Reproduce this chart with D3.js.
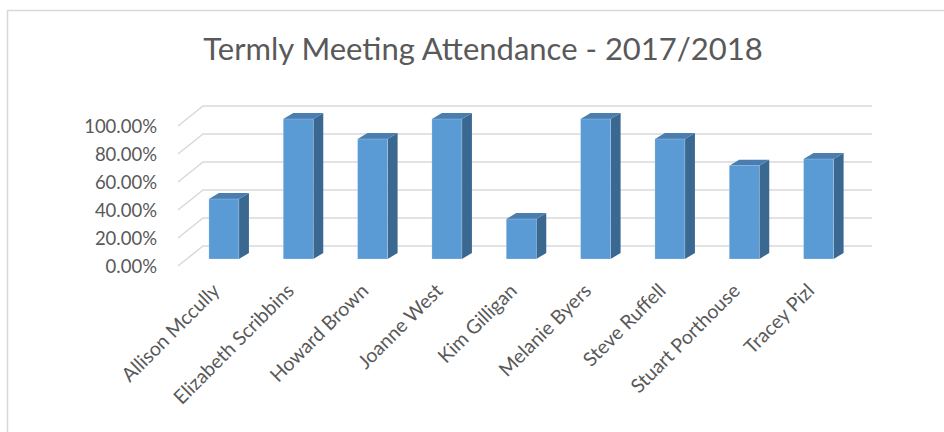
<!DOCTYPE html>
<html>
<head>
<meta charset="utf-8">
<script src="https://cdn.jsdelivr.net/npm/d3@7"></script>
<style>
    html, body { margin: 0; padding: 0; background: #fff; }
    svg { display: block; font-family: Lato, "Open Sans", sans-serif; }
</style>
</head>
<body>
<svg id="chart" width="944" height="432"></svg>
<script>
"use strict";

const TITLE = "Termly Meeting Attendance - 2017/2018";
const members = [
    "Allison Mccully",
    "Elizabeth Scribbins",
    "Howard Brown",
    "Joanne West",
    "Kim Gilligan",
    "Melanie Byers",
    "Steve Ruffell",
    "Stuart Porthouse",
    "Tracey Pizl"
];
const attendance = [0.4286, 1, 0.8571, 1, 0.2857, 1, 0.8571, 0.6667, 0.7143];
const yTicks = [0, 0.2, 0.4, 0.6, 0.8, 1];

const COLORS = {
    text: "#595959",
    grid: "#d9d9d9",
    border: "#d9d9d9",
    front: "#5b9bd5",
    side: "#3b6890",
    top: "#4a7eb0"
};

// floor of the 3d plot: front left corner plus the depth vector to the back wall
const FLOOR = { x0: 178, x1: 847, depth: { dx: 25, dy: -20 } };
const BAR_DEPTH_AT = 0.35;
const BAR_SIDE = { dx: 10, dy: -6 };

const svg = d3.select("#chart");

const x = d3
    .scaleBand()
    .domain(members)
    .range([FLOOR.x0, FLOOR.x1])
    .paddingInner(0.596)
    .paddingOuter(0.298);

const y = d3.scaleLinear().domain([0, 1]).range([266, 126]);

/**
 * Shifts a front plane point back into the chart by a fraction of the floor depth
 */
const project = (px, py, t) => [
    px + FLOOR.depth.dx * t,
    py + FLOOR.depth.dy * t
];

// chart area border (only top and left edges are visible in the frame)
svg.append("path")
    .attr("d", "M7.5,432 V10.5 H944")
    .attr("fill", "none")
    .attr("stroke", COLORS.border)
    .attr("stroke-width", 1.5);

svg.append("text")
    .attr("x", 483)
    .attr("y", 60)
    .attr("text-anchor", "middle")
    .attr("fill", COLORS.text)
    .attr("font-size", 31)
    .text(TITLE);

// gridlines: diagonal on the side wall, then straight along the back wall
const grid = svg.append("g").attr("class", "grid");
yTicks.forEach((t) => {
    const front = [FLOOR.x0, y(t)];
    const back = project(FLOOR.x0, y(t), 1);
    const backEnd = project(FLOOR.x1, y(t), 1);
    grid.append("path")
        .attr(
            "d",
            `M${front[0]},${front[1]} L${back[0]},${back[1]} L${backEnd[0]},${backEnd[1]}`
        )
        .attr("fill", "none")
        .attr("stroke", COLORS.grid)
        .attr("stroke-width", 1.5);
});

svg.append("g")
    .attr("class", "y-labels")
    .selectAll("text")
    .data(yTicks)
    .join("text")
    .attr("x", 157)
    .attr("y", (d) => y(d) + 1)
    .attr("dy", "0.35em")
    .attr("text-anchor", "end")
    .attr("fill", COLORS.text)
    .attr("font-size", 18.5)
    .text(d3.format(".2%"));

// bars: front face, side face, top face
const bars = svg
    .append("g")
    .attr("class", "bars")
    .selectAll("g")
    .data(members.map((m, i) => ({ name: m, value: attendance[i] })))
    .join("g");

bars.each(function(d) {
    const g = d3.select(this);
    const [bx, by0] = project(x(d.name), y(0), BAR_DEPTH_AT);
    const by1 = project(x(d.name), y(d.value), BAR_DEPTH_AT)[1];
    const w = x.bandwidth();
    const { dx, dy } = BAR_SIDE;
    g.append("path")
        .attr(
            "d",
            `M${bx + w},${by0} L${bx + w + dx},${by0 + dy} L${bx + w + dx},${by1 + dy} L${bx + w},${by1} Z`
        )
        .attr("fill", COLORS.side);
    g.append("path")
        .attr(
            "d",
            `M${bx},${by1} L${bx + dx},${by1 + dy} L${bx + w + dx},${by1 + dy} L${bx + w},${by1} Z`
        )
        .attr("fill", COLORS.top);
    g.append("rect")
        .attr("x", bx)
        .attr("y", by1)
        .attr("width", w)
        .attr("height", by0 - by1)
        .attr("fill", COLORS.front)
        .attr("stroke", "rgba(255,255,255,0.35)")
        .attr("stroke-width", 0.6);
});

// category labels, rotated 45 degrees below the floor
svg.append("g")
    .attr("class", "x-labels")
    .selectAll("text")
    .data(members)
    .join("text")
    .attr("transform", (d) => {
        const cx = project(x(d) + x.bandwidth() / 2, 0, BAR_DEPTH_AT)[0];
        return `translate(${cx - 3},${292}) rotate(-45)`;
    })
    .attr("text-anchor", "end")
    .attr("fill", COLORS.text)
    .attr("font-size", 19.5)
    .text((d) => d);
</script>
</body>
</html>
